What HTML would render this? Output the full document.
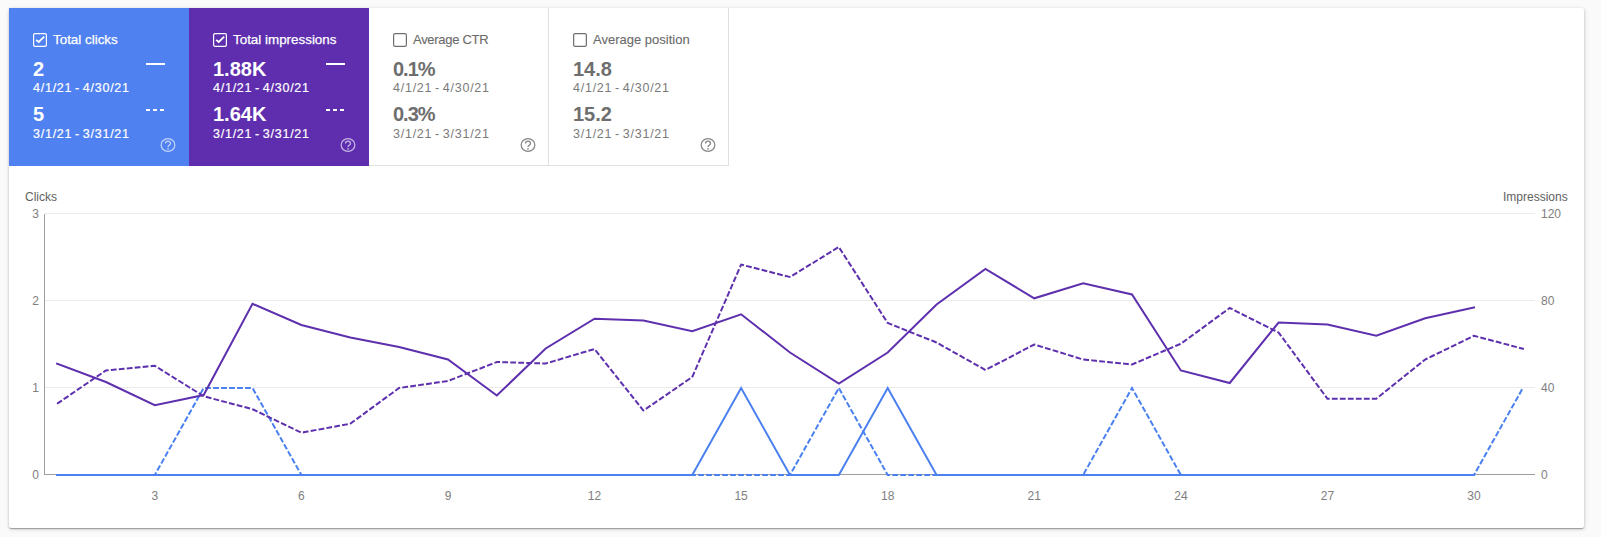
<!DOCTYPE html>
<html><head><meta charset="utf-8"><style>
html,body{margin:0;padding:0;width:1601px;height:537px;overflow:hidden;background:#fafafa;font-family:"Liberation Sans",sans-serif;}
.card{position:absolute;left:9px;top:8px;width:1575px;height:520px;background:#fff;border-radius:2px;box-shadow:0 1px 3px 0 rgba(0,0,0,.2),0 1px 1px 0 rgba(0,0,0,.14),0 2px 1px -1px rgba(0,0,0,.12),1px 1px 6px 0 rgba(0,0,0,.07);}
.abs{position:absolute;}
.tile{position:absolute;top:8px;width:180px;height:158px;}
.t{position:absolute;white-space:nowrap;line-height:normal;}
.title{font-size:13.4px;-webkit-text-stroke:0.25px currentColor;}
.val{font-size:20px;font-weight:bold;}
.date{font-size:12.5px;letter-spacing:0.75px;word-spacing:-1.4px;}
.sel .date,.date.w{-webkit-text-stroke:0.2px currentColor;}
.help{position:absolute;}
.ax{position:absolute;font-size:12px;white-space:nowrap;line-height:14px;margin-top:1px}
</style></head><body>
<div class="card"></div>
<div class="tile sel" style="left:9px;background:#4f82f0"></div><svg class="abs" style="left:33px;top:33px" width="14" height="14" viewBox="0 0 14 14"><rect x="0.6" y="0.6" width="12.8" height="12.8" rx="1.4" fill="none" stroke="#fff" stroke-width="1.2"/><path d="M3.1 6.8 L5.75 9.0 L11.2 3.7" fill="none" stroke="#fff" stroke-width="1.75"/></svg><div class="t title" style="left:53px;top:32px;color:#fff">Total clicks</div><div class="t val" style="left:33px;top:58px;color:#fff">2</div><div class="t date w" style="left:33px;top:81px;color:#fff">4/1/21 - 4/30/21</div><div class="t val" style="left:33px;top:103px;color:#fff">5</div><div class="t date w" style="left:33px;top:127px;color:#fff">3/1/21 - 3/31/21</div><div class="abs" style="left:146px;top:63px;width:19px;height:2px;background:#fff"></div><div class="abs" style="left:146px;top:109px;width:4px;height:2px;background:#fff"></div><div class="abs" style="left:153px;top:109px;width:4px;height:2px;background:#fff"></div><div class="abs" style="left:160px;top:109px;width:4px;height:2px;background:#fff"></div><svg class="abs" style="left:158px;top:135px" width="20" height="20" viewBox="158 135 20 20"><ellipse cx="168" cy="145" rx="6.85" ry="6.35" fill="none" stroke="rgba(255,255,255,.65)" stroke-width="1.25"/><path d="M165.5,143.5 A2.5,2.5 0 1 1 170.5,143.5 C170.5,145.3 168,145.3 168,147.0" fill="none" stroke="rgba(255,255,255,.65)" stroke-width="1.25"/><rect x="167.25" y="148.1" width="1.5" height="1.5" fill="rgba(255,255,255,.65)"/></svg><div class="tile sel" style="left:189px;background:#5e2eae"></div><svg class="abs" style="left:213px;top:33px" width="14" height="14" viewBox="0 0 14 14"><rect x="0.6" y="0.6" width="12.8" height="12.8" rx="1.4" fill="none" stroke="#fff" stroke-width="1.2"/><path d="M3.1 6.8 L5.75 9.0 L11.2 3.7" fill="none" stroke="#fff" stroke-width="1.75"/></svg><div class="t title" style="left:233px;top:32px;color:#fff">Total impressions</div><div class="t val" style="left:213px;top:58px;color:#fff">1.88K</div><div class="t date w" style="left:213px;top:81px;color:#fff">4/1/21 - 4/30/21</div><div class="t val" style="left:213px;top:103px;color:#fff">1.64K</div><div class="t date w" style="left:213px;top:127px;color:#fff">3/1/21 - 3/31/21</div><div class="abs" style="left:326px;top:63px;width:19px;height:2px;background:#fff"></div><div class="abs" style="left:326px;top:109px;width:4px;height:2px;background:#fff"></div><div class="abs" style="left:333px;top:109px;width:4px;height:2px;background:#fff"></div><div class="abs" style="left:340px;top:109px;width:4px;height:2px;background:#fff"></div><svg class="abs" style="left:338px;top:135px" width="20" height="20" viewBox="338 135 20 20"><ellipse cx="348" cy="145" rx="6.85" ry="6.35" fill="none" stroke="rgba(255,255,255,.65)" stroke-width="1.25"/><path d="M345.5,143.5 A2.5,2.5 0 1 1 350.5,143.5 C350.5,145.3 348,145.3 348,147.0" fill="none" stroke="rgba(255,255,255,.65)" stroke-width="1.25"/><rect x="347.25" y="148.1" width="1.5" height="1.5" fill="rgba(255,255,255,.65)"/></svg><div class="tile" style="left:369px;background:#fff"></div><svg class="abs" style="left:393px;top:33px" width="14" height="14" viewBox="0 0 14 14"><rect x="0.6" y="0.6" width="12.8" height="12.8" rx="1.6" fill="none" stroke="#6f6f6f" stroke-width="1.2"/></svg><div class="t title" style="left:413px;top:32px;color:#6a6a6a;font-size:13px;-webkit-text-stroke:0.1px currentColor;letter-spacing:-0.3px">Average CTR</div><div class="t val" style="left:393px;top:58px;color:#6e6e6e;letter-spacing:-1px">0.1%</div><div class="t date" style="left:393px;top:81px;color:#7a7a7a">4/1/21 - 4/30/21</div><div class="t val" style="left:393px;top:103px;color:#6e6e6e;letter-spacing:-1px">0.3%</div><div class="t date" style="left:393px;top:127px;color:#7a7a7a">3/1/21 - 3/31/21</div><svg class="abs" style="left:518px;top:135px" width="20" height="20" viewBox="518 135 20 20"><ellipse cx="528" cy="145" rx="6.85" ry="6.35" fill="none" stroke="#858585" stroke-width="1.25"/><path d="M525.5,143.5 A2.5,2.5 0 1 1 530.5,143.5 C530.5,145.3 528,145.3 528,147.0" fill="none" stroke="#858585" stroke-width="1.25"/><rect x="527.25" y="148.1" width="1.5" height="1.5" fill="#858585"/></svg><div class="tile" style="left:549px;background:#fff"></div><svg class="abs" style="left:573px;top:33px" width="14" height="14" viewBox="0 0 14 14"><rect x="0.6" y="0.6" width="12.8" height="12.8" rx="1.6" fill="none" stroke="#6f6f6f" stroke-width="1.2"/></svg><div class="t title" style="left:593px;top:32px;color:#6a6a6a;font-size:13px;-webkit-text-stroke:0.1px currentColor">Average position</div><div class="t val" style="left:573px;top:58px;color:#6e6e6e">14.8</div><div class="t date" style="left:573px;top:81px;color:#7a7a7a">4/1/21 - 4/30/21</div><div class="t val" style="left:573px;top:103px;color:#6e6e6e">15.2</div><div class="t date" style="left:573px;top:127px;color:#7a7a7a">3/1/21 - 3/31/21</div><svg class="abs" style="left:698px;top:135px" width="20" height="20" viewBox="698 135 20 20"><ellipse cx="708" cy="145" rx="6.85" ry="6.35" fill="none" stroke="#858585" stroke-width="1.25"/><path d="M705.5,143.5 A2.5,2.5 0 1 1 710.5,143.5 C710.5,145.3 708,145.3 708,147.0" fill="none" stroke="#858585" stroke-width="1.25"/><rect x="707.25" y="148.1" width="1.5" height="1.5" fill="#858585"/></svg><div class="abs" style="left:548px;top:8px;width:1px;height:158px;background:#e0e0e0"></div><div class="abs" style="left:728px;top:8px;width:1px;height:158px;background:#e0e0e0"></div><div class="abs" style="left:369px;top:165px;width:360px;height:1px;background:#e0e0e0"></div><svg class="abs" style="left:0;top:0" width="1601" height="537"><rect x="45" y="213" width="1490" height="1" fill="#ebebeb"/><rect x="45" y="300" width="1490" height="1" fill="#ebebeb"/><rect x="45" y="387" width="1490" height="1" fill="#ebebeb"/><rect x="44" y="214" width="1" height="261" fill="#9e9e9e"/><rect x="44" y="474" width="1491" height="1" fill="#9e9e9e"/><path d="M57.08,475.00 L105.94,475.00 L154.80,475.00 L203.66,388.00 L252.52,388.00 L301.38,475.00 L350.24,475.00 L399.10,475.00 L447.96,475.00 L496.82,475.00 L545.68,475.00 L594.54,475.00 L643.40,475.00 L692.26,475.00 L741.12,475.00 L789.98,475.00 L838.84,388.00 L887.70,475.00 L936.56,475.00 L985.42,475.00 L1034.28,475.00 L1083.14,475.00 L1132.00,388.00 L1180.86,475.00 L1229.72,475.00 L1278.58,475.00 L1327.44,475.00 L1376.30,475.00 L1425.16,475.00 L1474.02,475.00 L1522.88,388.00" fill="none" stroke="#4a80f0" stroke-width="2" stroke-dasharray="3.8,4.2" stroke-dashoffset="0.1" stroke-linecap="square"/><path d="M57.08,475.00 L105.94,475.00 L154.80,475.00 L203.66,475.00 L252.52,475.00 L301.38,475.00 L350.24,475.00 L399.10,475.00 L447.96,475.00 L496.82,475.00 L545.68,475.00 L594.54,475.00 L643.40,475.00 L692.26,475.00 L741.12,388.00 L789.98,475.00 L838.84,475.00 L887.70,388.00 L936.56,475.00 L985.42,475.00 L1034.28,475.00 L1083.14,475.00 L1132.00,475.00 L1180.86,475.00 L1229.72,475.00 L1278.58,475.00 L1327.44,475.00 L1376.30,475.00 L1425.16,475.00 L1474.02,475.00" fill="none" stroke="#4a80f0" stroke-width="2" stroke-linecap="square"/><path d="M57.08,403.75 L105.94,370.50 L154.80,365.75 L203.66,396.25 L252.52,409.20 L301.38,432.70 L350.24,423.75 L399.10,388.00 L447.96,381.00 L496.82,362.00 L545.68,363.50 L594.54,349.00 L643.40,410.60 L692.26,377.00 L741.12,264.60 L789.98,277.00 L838.84,247.00 L887.70,323.00 L936.56,342.50 L985.42,370.00 L1034.28,344.50 L1083.14,359.50 L1132.00,364.50 L1180.86,343.75 L1229.72,308.00 L1278.58,332.50 L1327.44,398.75 L1376.30,398.75 L1425.16,359.50 L1474.02,335.75 L1522.88,348.75" fill="none" stroke="#5e30ae" stroke-width="2" stroke-dasharray="3.8,4.2" stroke-dashoffset="7" stroke-linecap="square"/><path d="M57.08,363.75 L105.94,382.00 L154.80,405.20 L203.66,395.00 L252.52,303.80 L301.38,325.00 L350.24,337.50 L399.10,347.00 L447.96,359.50 L496.82,395.50 L545.68,348.50 L594.54,318.75 L643.40,320.50 L692.26,331.25 L741.12,314.25 L789.98,352.50 L838.84,383.50 L887.70,352.50 L936.56,304.50 L985.42,269.00 L1034.28,298.30 L1083.14,283.25 L1132.00,294.50 L1180.86,370.50 L1229.72,383.00 L1278.58,322.50 L1327.44,324.50 L1376.30,335.75 L1425.16,318.25 L1474.02,307.50" fill="none" stroke="#5e30ae" stroke-width="2" stroke-linecap="square"/></svg><div class="ax" style="left:25px;top:189px;color:#616161">Clicks</div><div class="ax" style="left:1503px;top:189px;color:#616161">Impressions</div><div class="ax" style="right:1562px;top:206px;color:#7e7e7e;text-align:right">3</div><div class="ax" style="right:1562px;top:293px;color:#7e7e7e;text-align:right">2</div><div class="ax" style="right:1562px;top:380px;color:#7e7e7e;text-align:right">1</div><div class="ax" style="right:1562px;top:467px;color:#7e7e7e;text-align:right">0</div><div class="ax" style="left:1541px;top:206px;color:#7e7e7e">120</div><div class="ax" style="left:1541px;top:293px;color:#7e7e7e">80</div><div class="ax" style="left:1541px;top:380px;color:#7e7e7e">40</div><div class="ax" style="left:1541px;top:467px;color:#7e7e7e">0</div><div class="ax" style="left:124.8px;width:60px;text-align:center;top:488px;color:#7e7e7e">3</div><div class="ax" style="left:271.4px;width:60px;text-align:center;top:488px;color:#7e7e7e">6</div><div class="ax" style="left:418.0px;width:60px;text-align:center;top:488px;color:#7e7e7e">9</div><div class="ax" style="left:564.5px;width:60px;text-align:center;top:488px;color:#7e7e7e">12</div><div class="ax" style="left:711.1px;width:60px;text-align:center;top:488px;color:#7e7e7e">15</div><div class="ax" style="left:857.7px;width:60px;text-align:center;top:488px;color:#7e7e7e">18</div><div class="ax" style="left:1004.3px;width:60px;text-align:center;top:488px;color:#7e7e7e">21</div><div class="ax" style="left:1150.9px;width:60px;text-align:center;top:488px;color:#7e7e7e">24</div><div class="ax" style="left:1297.4px;width:60px;text-align:center;top:488px;color:#7e7e7e">27</div><div class="ax" style="left:1444.0px;width:60px;text-align:center;top:488px;color:#7e7e7e">30</div></body></html>
